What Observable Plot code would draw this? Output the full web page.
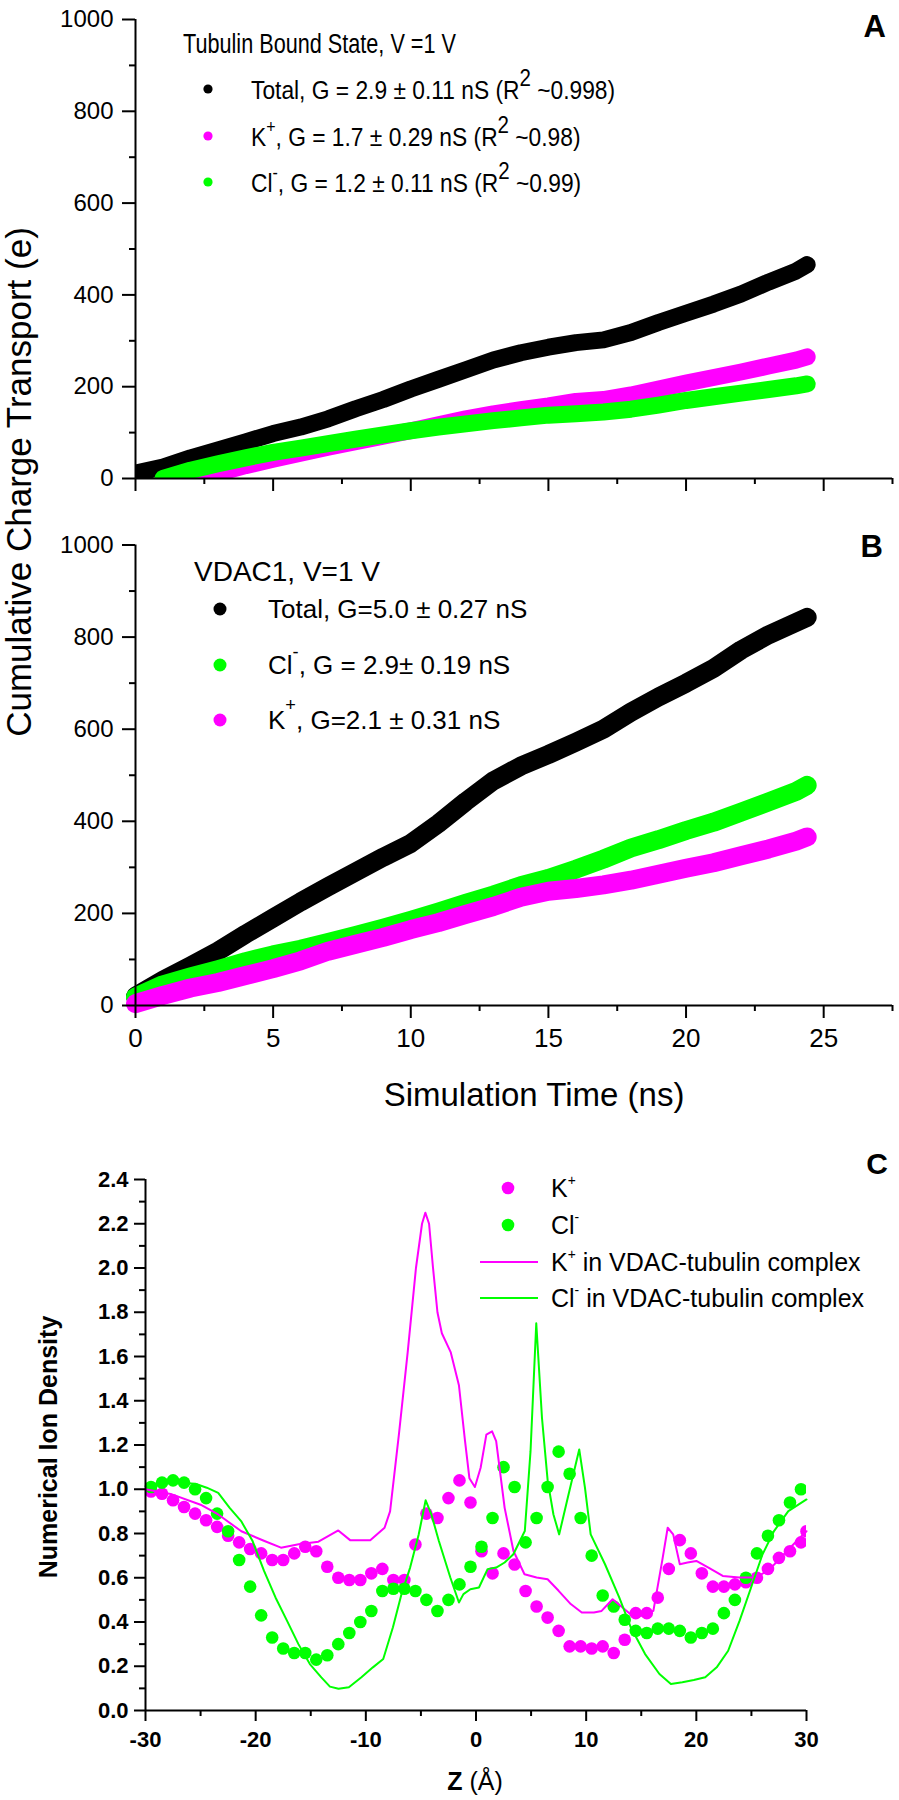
<!DOCTYPE html>
<html><head><meta charset="utf-8">
<script src="https://cdn.jsdelivr.net/npm/d3@7"></script>
<script src="https://cdn.jsdelivr.net/npm/@observablehq/plot@0.6"></script>
<style>
body{margin:0;background:#fff;}
#wrap{position:relative;width:899px;height:1800px;overflow:hidden;background:#fff;}
.panel{position:absolute;left:0;}
#overlay{position:absolute;left:0;top:0;pointer-events:none;}
</style></head><body><div id="wrap"></div>
<script>
// ---------- Panel A : tubulin bound state ----------
const tTotalA = [0,1,2,3,4,5,6,7,8,9,10,11,12,13,14,15,16,17,18,19,20,21,22,23,24,24.4];
const totalA  = [12,25,45,62,80,98,112,130,152,172,195,216,237,258,274,286,296,302,318,340,360,380,402,428,452,466];
const tKA = [2.1,3,4,5,6,7,8,9,10,11,12,13,14,15,16,17,18,19,20,21,22,23,24,24.4];
const kA  = [0,12,28,42,55,68,80,92,104,117,130,141,150,158,168,172,182,195,208,220,232,245,258,265];
const tClA = [1.0,2,3,4,5,6,7,8,9,10,11,12,13,14,15,16,17,18,19,20,21,22,23,24,24.4];
const clA  = [0,18,32,45,57,66,76,86,95,104,112,119,126,132,138,141,145,151,160,170,178,186,194,202,206];

// ---------- Panel B : VDAC1 ----------
const tB = [0,1,2,3,4,5,6,7,8,9,10,11,12,13,14,15,16,17,18,19,20,21,22,23,24,24.4];
const totalB = [20,55,86,118,155,190,225,258,290,322,352,395,443,488,520,545,572,600,637,670,700,732,772,805,832,843];
const clB    = [18,45,62,78,95,110,122,137,152,168,185,203,222,240,260,276,296,318,342,360,380,398,420,442,465,478];
const kB     = [4,22,38,50,65,80,97,118,133,148,165,180,198,215,235,248,254,262,272,285,298,310,325,340,357,366];

// ---------- Panel C : ion density ----------
const zDotsK = [-29.5,-28.5,-27.5,-26.5,-25.5,-24.5,-23.5,-22.5,-21.5,-20.5,-19.5,-18.5,-17.5,-16.5,-15.5,-14.5,-13.5,-12.5,-11.5,-10.5,-9.5,-8.5,-7.5,-6.5,-5.5,-4.5,-3.5,-2.5,-1.5,-0.5,0.5,1.5,2.5,3.5,4.5,5.5,6.5,7.5,8.5,9.5,10.5,11.5,12.5,13.5,14.5,15.5,16.5,17.5,18.5,19.5,20.5,21.5,22.5,23.5,24.5,25.5,26.5,27.5,28.5,29.5,30];
const kDots = [0.99,0.98,0.95,0.92,0.89,0.86,0.83,0.79,0.76,0.73,0.71,0.68,0.68,0.71,0.74,0.72,0.65,0.60,0.59,0.59,0.62,0.64,0.59,0.59,0.75,0.89,0.87,0.96,1.04,0.94,0.72,0.62,0.71,0.66,0.54,0.47,0.42,0.36,0.29,0.29,0.28,0.29,0.26,0.32,0.44,0.44,0.51,0.64,0.77,0.71,0.62,0.56,0.56,0.57,0.58,0.60,0.64,0.69,0.72,0.76,0.81];
const zDotsCl = [-29.5,-28.5,-27.5,-26.5,-25.5,-24.5,-23.5,-22.5,-21.5,-20.5,-19.5,-18.5,-17.5,-16.5,-15.5,-14.5,-13.5,-12.5,-11.5,-10.5,-9.5,-8.5,-7.5,-6.5,-5.5,-4.5,-3.5,-2.5,-1.5,-0.5,0.5,1.5,2.5,3.5,4.5,5.5,6.5,7.5,8.5,9.5,10.5,11.5,12.5,13.5,14.5,15.5,16.5,17.5,18.5,19.5,20.5,21.5,22.5,23.5,24.5,25.5,26.5,27.5,28.5,29.5];
const clDots = [1.01,1.03,1.04,1.03,1.00,0.96,0.89,0.81,0.68,0.56,0.43,0.33,0.28,0.26,0.26,0.23,0.25,0.30,0.35,0.40,0.45,0.54,0.55,0.55,0.54,0.50,0.45,0.50,0.57,0.65,0.74,0.87,1.10,1.01,0.76,0.87,1.01,1.17,1.07,0.87,0.70,0.52,0.47,0.41,0.36,0.35,0.37,0.37,0.36,0.33,0.35,0.37,0.44,0.50,0.60,0.71,0.79,0.86,0.94,1.00];
const zKLine = [-30,-27.6,-25,-23.4,-21.3,-19.2,-17.7,-16.1,-14.3,-12.5,-11.4,-9.6,-8.3,-7.8,-7.0,-6.2,-5.45,-4.9,-4.6,-4.26,-3.9,-3.5,-3.1,-2.3,-1.55,-1.0,-0.6,-0.1,0.42,0.94,1.46,1.83,2.6,3.4,4.4,5.5,6.5,7.5,8.6,9.6,10.7,11.4,12.4,13.3,14.0,15.1,16.1,16.9,17.4,17.9,18.5,19.2,20.0,21.1,22.4,23.9,25.5,26.8,28.1,29.4,30];
const kLine = [1.0,0.977,0.93,0.886,0.81,0.766,0.736,0.751,0.763,0.814,0.769,0.769,0.826,0.90,1.247,1.62,2.0,2.2,2.25,2.2,2.0,1.8,1.705,1.62,1.47,1.22,1.05,1.01,1.097,1.247,1.262,1.217,0.916,0.721,0.616,0.601,0.593,0.541,0.481,0.443,0.443,0.45,0.503,0.466,0.436,0.428,0.45,0.676,0.826,0.796,0.661,0.669,0.676,0.646,0.608,0.601,0.601,0.646,0.714,0.781,0.81];
const zClLine = [-30,-27.56,-25.48,-24.44,-23.4,-22.36,-21.32,-20.28,-19.24,-18.2,-17.16,-16.12,-15.08,-14.04,-13.26,-12.48,-11.54,-10.4,-9.36,-8.42,-7.54,-6.76,-5.98,-5.2,-4.57,-4.05,-3.37,-2.33,-1.55,-1.14,-0.51,0.27,1.05,1.83,2.6,3.39,4.43,4.95,5.47,5.99,6.51,7.03,7.55,8.33,9.37,9.89,10.41,11.71,13.0,14.05,15.35,16.65,17.69,18.73,19.77,20.81,21.85,22.89,23.93,24.97,26.01,27.05,28.35,30];
const clLine = [1.014,1.03,1.025,1.007,0.984,0.916,0.856,0.766,0.631,0.511,0.406,0.30,0.21,0.15,0.108,0.098,0.105,0.15,0.195,0.233,0.376,0.526,0.646,0.796,0.95,0.886,0.766,0.601,0.488,0.526,0.548,0.556,0.639,0.646,0.669,0.706,0.811,1.172,1.75,1.322,1.037,0.886,0.796,0.962,1.18,1.007,0.796,0.661,0.511,0.376,0.255,0.165,0.12,0.128,0.138,0.15,0.195,0.27,0.406,0.556,0.706,0.811,0.901,0.954];

// ---------- ticks ----------
const yMajorAB = [0,200,400,600,800,1000];
const yMinorAB = [100,300,500,700,900];
const xMajorAB = [0,5,10,15,20,25];
const xMinorAB = [2.5,7.5,12.5,17.5,22.5,27.5];
const yMajorC = [0,0.2,0.4,0.6,0.8,1.0,1.2,1.4,1.6,1.8,2.0,2.2,2.4];
const yMinorC = [0.1,0.3,0.5,0.7,0.9,1.1,1.3,1.5,1.7,1.9,2.1,2.3];
const xMajorC = [-30,-20,-10,0,10,20,30];
const xMinorC = [-25,-15,-5,5,15,25];

const MAG = "#ff00ff", GRN = "#00ff00";
const FONT = '"Liberation Sans", Arial, Helvetica, sans-serif';
const pts = (xs, ys) => xs.map((x, i) => ({x, y: ys[i]}));

const wrap = document.getElementById("wrap");
function place(svg, top) {
  const d = document.createElement("div");
  d.className = "panel"; d.style.top = top + "px";
  d.appendChild(svg); wrap.appendChild(d);
}
const baseStyle = {fontFamily: FONT, background: "transparent", color: "black", overflow: "visible"};

function axesAB(showXLabels) {
  return [
    Plot.axisY({ticks: yMajorAB, tickSize: 13, tickPadding: 9, strokeWidth: 2, tickFormat: d => String(d), label: null, fontSize: 24}),
    Plot.axisY({ticks: yMinorAB, tickSize: 6, strokeWidth: 2, tickFormat: () => "", label: null}),
    Plot.axisX({ticks: xMajorAB, tickSize: 13, tickPadding: 10, strokeWidth: 2, tickFormat: showXLabels ? (d => String(d)) : () => "", label: null, fontSize: 26}),
    Plot.axisX({ticks: xMinorAB, tickSize: 6, strokeWidth: 2, tickFormat: () => "", label: null}),
    Plot.ruleX([0], {strokeWidth: 2}),
    Plot.ruleY([0], {strokeWidth: 2})
  ];
}
const band = (data, color, w, clip) => Plot.line(data, {x: "x", y: "y", stroke: color, strokeWidth: w, strokeLinecap: "round", strokeLinejoin: "round", clip});

// Panel A
place(Plot.plot({
  width: 899, height: 500, marginTop: 19, marginBottom: 22, marginLeft: 135, marginRight: 7,
  x: {domain: [0, 27.5]}, y: {domain: [0, 1000]},
  style: baseStyle,
  marks: [
    band(pts(tTotalA, totalA), "black", 17, true),
    band(pts(tKA, kA), MAG, 17, true),
    band(pts(tClA, clA), GRN, 17, true),
    ...axesAB(false)
  ]
}), 0);

// Panel B
place(Plot.plot({
  width: 899, height: 560, marginTop: 34.5, marginBottom: 65, marginLeft: 135, marginRight: 7,
  x: {domain: [0, 27.5]}, y: {domain: [0, 1000]},
  style: baseStyle,
  marks: [
    band(pts(tB, totalB), "black", 19, false),
    band(pts(tB, clB), GRN, 19, false),
    band(pts(tB, kB), MAG, 19, false),
    ...axesAB(true)
  ]
}), 510);

// Panel C
place(Plot.plot({
  width: 899, height: 650, marginTop: 29, marginBottom: 90, marginLeft: 145, marginRight: 93,
  x: {domain: [-30, 30]}, y: {domain: [0, 2.4]},
  style: {...baseStyle, fontWeight: "bold"},
  marks: [
    Plot.dot(pts(zDotsK, kDots), {x: "x", y: "y", r: 6.3, fill: MAG, clip: true}),
    Plot.dot(pts(zDotsCl, clDots), {x: "x", y: "y", r: 6.3, fill: GRN, clip: true}),
    Plot.line(pts(zKLine, kLine), {x: "x", y: "y", stroke: MAG, strokeWidth: 2}),
    Plot.line(pts(zClLine, clLine), {x: "x", y: "y", stroke: GRN, strokeWidth: 2}),
    Plot.axisY({ticks: yMajorC, tickSize: 11, tickPadding: 6, strokeWidth: 2, tickFormat: d => d.toFixed(1), label: null, fontSize: 22, fontWeight: "bold"}),
    Plot.axisY({ticks: yMinorC, tickSize: 6, strokeWidth: 2, tickFormat: () => "", label: null}),
    Plot.axisX({ticks: xMajorC, tickSize: 11, tickPadding: 10, strokeWidth: 2, tickFormat: d => String(d), label: null, fontSize: 22, fontWeight: "bold"}),
    Plot.axisX({ticks: xMinorC, tickSize: 6, strokeWidth: 2, tickFormat: () => "", label: null}),
    Plot.ruleX([-30], {strokeWidth: 2}),
    Plot.ruleY([0], {strokeWidth: 2})
  ]
}), 1150);

// ---------- overlay: titles, legends, axis titles ----------
const ov = d3.select(wrap).append("svg").attr("id", "overlay")
  .attr("width", 899).attr("height", 1800).style("font-family", FONT);

function addText(x, y, parts, o = {}) {
  const size = o.size || 26;
  const t = ov.append("text").attr("x", 0).attr("y", 0).attr("font-size", size)
    .attr("font-weight", o.weight || "normal").attr("text-anchor", o.anchor || "start").attr("fill", "black");
  const sx = o.sx || 1;
  t.attr("transform", `translate(${x},${y})` + (o.rotate ? " rotate(-90)" : "") + (sx !== 1 ? ` scale(${sx},1)` : ""));
  let shift = 0;
  for (let p of (typeof parts === "string" ? [parts] : parts)) {
    if (typeof p === "string") p = {t: p};
    const s = t.append("tspan").text(p.t);
    if (p.w) s.attr("font-weight", p.w);
    const target = p.sup ? -(p.rise || 0.45) * size : 0;
    if (target !== shift) { s.attr("dy", target - shift); shift = target; }
    if (p.sup) s.attr("font-size", (p.scale || 0.7) * size);
  }
  return t;
}
const dot = (x, y, r, c) => ov.append("circle").attr("cx", x).attr("cy", y).attr("r", r).attr("fill", c);

// Shared y title
addText(31, 482, "Cumulative Charge Transport (e)", {size: 35, anchor: "middle", rotate: true});

// Panel A
addText(886, 37, "A", {size: 31, weight: "bold", anchor: "end"});
addText(183, 53, "Tubulin Bound State, V =1 V", {size: 28.5, sx: 0.76});
dot(208, 89, 4.6, "black");
dot(208, 136, 4.6, MAG);
dot(208, 182, 4.6, GRN);
addText(251, 99, ["Total, G = 2.9 \u00b1 0.11 nS (R", {t: "2", sup: true, scale: 0.9, rise: 0.5}, " ~0.998)"], {size: 26.5, sx: 0.86});
addText(251, 146, ["K", {t: "+", sup: true, rise: 0.5}, ", G = 1.7 \u00b1 0.29 nS (R", {t: "2", sup: true, scale: 0.9, rise: 0.5}, " ~0.98)"], {size: 26.5, sx: 0.86});
addText(251, 192, ["Cl", {t: "-", sup: true, rise: 0.5}, ", G = 1.2 \u00b1 0.11 nS (R", {t: "2", sup: true, scale: 0.9, rise: 0.5}, " ~0.99)"], {size: 26.5, sx: 0.86});

// Panel B
addText(883, 557, "B", {size: 31, weight: "bold", anchor: "end"});
addText(194, 581, "VDAC1, V=1 V", {size: 28});
dot(220, 609, 6.5, "black");
dot(220, 665, 6.5, GRN);
dot(220, 720, 6.5, MAG);
addText(268, 618, "Total, G=5.0 \u00b1 0.27 nS", {size: 26});
addText(268, 674, ["Cl", {t: "-", sup: true, rise: 0.6}, ", G = 2.9\u00b1 0.19 nS"], {size: 26});
addText(268, 729, ["K", {t: "+", sup: true, rise: 0.7}, ", G=2.1 \u00b1 0.31 nS"], {size: 26});
addText(534, 1106, "Simulation Time (ns)", {size: 33, anchor: "middle"});

// Panel C
addText(888, 1174, "C", {size: 30, weight: "bold", anchor: "end"});
dot(508, 1188, 6.3, MAG);
dot(508, 1225, 6.3, GRN);
ov.append("line").attr("x1", 480).attr("x2", 538).attr("y1", 1262).attr("y2", 1262).attr("stroke", MAG).attr("stroke-width", 2);
ov.append("line").attr("x1", 480).attr("x2", 538).attr("y1", 1298).attr("y2", 1298).attr("stroke", GRN).attr("stroke-width", 2);
addText(551, 1197, ["K", {t: "+", sup: true, scale: 0.55, rise: 0.5}], {size: 25});
addText(551, 1234, ["Cl", {t: "-", sup: true, scale: 0.55, rise: 0.5}], {size: 25});
addText(551, 1271, ["K", {t: "+", sup: true, scale: 0.55, rise: 0.5}, " in VDAC-tubulin complex"], {size: 25});
addText(551, 1307, ["Cl", {t: "-", sup: true, scale: 0.55, rise: 0.5}, " in VDAC-tubulin complex"], {size: 25});
addText(57, 1447, "Numerical Ion Density", {size: 25, weight: "bold", anchor: "middle", rotate: true});
addText(475, 1790, [{t: "Z", w: "bold"}, " (\u00c5)"], {size: 25, anchor: "middle"});
</script>
</body></html>
